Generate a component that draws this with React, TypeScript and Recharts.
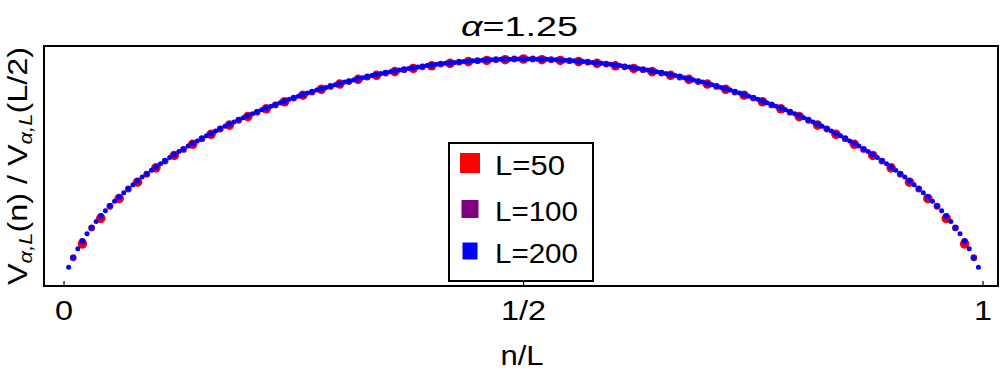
import React from 'react';
import { ScatterChart, Scatter, XAxis, YAxis, Legend, ReferenceArea } from 'recharts';

const FONT = '"Liberation Sans", Arial, Helvetica, sans-serif';

const TITLE_PREFIX = 'α';
const TITLE_REST = '=1.25';
const X_LABEL = 'n/L';

const xTickValues = [0, 0.5, 1];
const xTickLabels = ['0', '1/2', '1'];

const X_DOMAIN: [number, number] = [-0.0218, 1.0163];
const Y_DOMAIN: [number, number] = [0.0658, 1.0535];

// V_{α,L}(n) / V_{α,L}(L/2), n = 1 .. L-1
const valuesL50 = [
  0.239, 0.344, 0.425, 0.493, 0.552, 0.603, 0.649, 0.690, 0.728, 0.763,
  0.795, 0.824, 0.851, 0.875, 0.897, 0.916, 0.933, 0.948, 0.961, 0.972,
  0.982, 0.989, 0.994, 0.997, 1.000,
  0.997, 0.994, 0.989, 0.982, 0.972, 0.961, 0.948, 0.933, 0.916, 0.897,
  0.875, 0.851, 0.824, 0.795, 0.763, 0.728, 0.690, 0.649, 0.603, 0.552,
  0.493, 0.425, 0.344, 0.239,
];

const valuesL100 = [
  0.182, 0.249, 0.305, 0.352, 0.394, 0.431, 0.465, 0.497, 0.526, 0.554,
  0.580, 0.605, 0.628, 0.651, 0.672, 0.692, 0.712, 0.730, 0.748, 0.765,
  0.781, 0.796, 0.811, 0.825, 0.839, 0.852, 0.864, 0.876, 0.887, 0.898,
  0.907, 0.917, 0.926, 0.934, 0.942, 0.949, 0.956, 0.962, 0.968, 0.973,
  0.979, 0.983, 0.987, 0.990, 0.993, 0.995, 0.997, 0.999, 1.000, 1.000,
  1.000, 0.999, 0.997, 0.995, 0.993, 0.990, 0.987, 0.983, 0.979,
  0.973, 0.968, 0.962, 0.956, 0.949, 0.942, 0.934, 0.926, 0.917, 0.907,
  0.898, 0.887, 0.876, 0.864, 0.852, 0.839, 0.825, 0.811, 0.796, 0.781,
  0.765, 0.748, 0.730, 0.712, 0.692, 0.672, 0.651, 0.628, 0.605, 0.580,
  0.554, 0.526, 0.497, 0.465, 0.431, 0.394, 0.352, 0.305, 0.249, 0.182,
];

const valuesL200 = [
  0.143, 0.182, 0.219, 0.252, 0.281, 0.307, 0.331, 0.354, 0.375, 0.396,
  0.415, 0.433, 0.450, 0.467, 0.483, 0.499, 0.514, 0.528, 0.542, 0.556,
  0.569, 0.582, 0.595, 0.607, 0.619, 0.630, 0.642, 0.653, 0.663, 0.674,
  0.684, 0.694, 0.704, 0.714, 0.723, 0.732, 0.741, 0.750, 0.758, 0.767,
  0.775, 0.783, 0.791, 0.798, 0.806, 0.813, 0.820, 0.827, 0.834, 0.841,
  0.847, 0.854, 0.860, 0.866, 0.872, 0.878, 0.883, 0.889, 0.894, 0.900,
  0.905, 0.909, 0.914, 0.919, 0.923, 0.928, 0.932, 0.936, 0.940, 0.944,
  0.948, 0.951, 0.955, 0.958, 0.961, 0.964, 0.967, 0.970, 0.973, 0.975,
  0.978, 0.980, 0.982, 0.984, 0.986, 0.988, 0.990, 0.991, 0.993, 0.994,
  0.995, 0.996, 0.997, 0.998, 0.999, 0.999, 0.999, 1.000, 1.000, 1.000,
  1.000, 1.000, 0.999, 0.999, 0.999, 0.998, 0.997, 0.996, 0.995,
  0.994, 0.993, 0.991, 0.990, 0.988, 0.986, 0.984, 0.982, 0.980, 0.978,
  0.975, 0.973, 0.970, 0.967, 0.964, 0.961, 0.958, 0.955, 0.951, 0.948,
  0.944, 0.940, 0.936, 0.932, 0.928, 0.923, 0.919, 0.914, 0.909, 0.905,
  0.900, 0.894, 0.889, 0.883, 0.878, 0.872, 0.866, 0.860, 0.854, 0.847,
  0.841, 0.834, 0.827, 0.820, 0.813, 0.806, 0.798, 0.791, 0.783, 0.775,
  0.767, 0.758, 0.750, 0.741, 0.732, 0.723, 0.714, 0.704, 0.694, 0.684,
  0.674, 0.663, 0.653, 0.642, 0.630, 0.619, 0.607, 0.595, 0.582, 0.569,
  0.556, 0.542, 0.528, 0.514, 0.499, 0.483, 0.467, 0.450, 0.433, 0.415,
  0.396, 0.375, 0.354, 0.331, 0.307, 0.281, 0.252, 0.219, 0.182, 0.143,
];

const seriesNames = ['L=50', 'L=100', 'L=200'];
const seriesSizes = [50, 100, 200];
const seriesValues = [valuesL50, valuesL100, valuesL200];

const SERIES_STYLE = [
  { color: '#ff0000', r: 4.8, sqW: 20, sqH: 20, cy: 21, textW: 70 },
  { color: '#800080', r: 3.4, sqW: 17, sqH: 18, cy: 67, textW: 83 },
  { color: '#0000ff', r: 2.5, sqW: 15, sqH: 17, cy: 109, textW: 83 },
];

const toPoints = (values: number[], L: number) =>
  values.map((y, i) => ({ x: (i + 1) / L, y }));

const XTick = (props: any) => {
  const { x, y, payload } = props;
  const i = xTickValues.indexOf(payload.value);
  return (
    <g>
      <line x1={x} x2={x} y1={y} y2={y - 5} stroke="#000" strokeWidth={1.2} />
      <text
        transform={`translate(${x},${y + 34}) scale(1.2,1)`}
        textAnchor="middle"
        fontSize={27}
        fontFamily={FONT}
        fill="#000"
      >
        {xTickLabels[i]}
      </text>
    </g>
  );
};

const LegendBox = () => (
  <svg width={146} height={140} style={{ display: 'block' }}>
    <rect x={1} y={1} width={144} height={138} fill="#fff" stroke="#000" strokeWidth={2} />
    {seriesNames.map((name, i) => {
      const s = SERIES_STYLE[i];
      return (
        <g key={name}>
          <rect x={22 - s.sqW / 2} y={s.cy - s.sqH / 2} width={s.sqW} height={s.sqH} fill={s.color} />
          <text
            x={47}
            y={s.cy + 12}
            fontSize={27}
            fontFamily={FONT}
            fill="#000"
            textLength={s.textW}
            lengthAdjust="spacingAndGlyphs"
          >
            {name}
          </text>
        </g>
      );
    })}
  </svg>
);

export default function App() {
  return (
    <div style={{ position: 'absolute', left: 0, top: 0, width: 1000, height: 375, background: '#fff' }}>
      <ScatterChart width={1000} height={375} margin={{ top: 46, right: 2, bottom: 0, left: 44 }}>
        <XAxis
          type="number"
          dataKey="x"
          domain={X_DOMAIN}
          allowDataOverflow
          ticks={xTickValues}
          tick={<XTick />}
          tickLine={false}
          tickSize={0}
          tickMargin={0}
          height={89}
          axisLine={false}
        />
        <YAxis
          type="number"
          dataKey="y"
          domain={Y_DOMAIN}
          allowDataOverflow
          hide
          width={0}
        />
        <ReferenceArea
          x1={X_DOMAIN[0]}
          x2={X_DOMAIN[1]}
          y1={Y_DOMAIN[0]}
          y2={Y_DOMAIN[1]}
          fill="none"
          fillOpacity={0}
          stroke="#000"
          strokeWidth={2}
          strokeOpacity={1}
          ifOverflow="visible"
        />
        {seriesNames.map((name, i) => {
          const s = SERIES_STYLE[i];
          return (
            <Scatter
              key={name}
              name={name}
              data={toPoints(seriesValues[i], seriesSizes[i])}
              fill={s.color}
              isAnimationActive={false}
              shape={(p: any) => <circle cx={p.cx} cy={p.cy} r={s.r} fill={s.color} />}
            />
          );
        })}
        <Legend
          verticalAlign="middle"
          align="center"
          layout="horizontal"
          content={() => <LegendBox />}
          wrapperStyle={{ position: 'absolute', left: 448, top: 142, width: 146, height: 140 }}
        />
      </ScatterChart>
      <svg
        width={1000}
        height={375}
        style={{ position: 'absolute', left: 0, top: 0, pointerEvents: 'none' }}
      >
        <text
          x={461}
          y={36}
          fontSize={28}
          fontFamily={FONT}
          fill="#000"
          textLength={117}
          lengthAdjust="spacingAndGlyphs"
        >
          <tspan fontStyle="italic">{TITLE_PREFIX}</tspan>
          <tspan>{TITLE_REST}</tspan>
        </text>
        <text
          transform="translate(522,365) scale(1.15,1)"
          textAnchor="middle"
          fontSize={27}
          fontFamily={FONT}
          fill="#000"
        >
          {X_LABEL}
        </text>
        <text
          transform="translate(27,166) rotate(-90)"
          textAnchor="middle"
          fontSize={28}
          fontFamily={FONT}
          fill="#000"
          textLength={238}
          lengthAdjust="spacingAndGlyphs"
        >
          <tspan>V</tspan>
          <tspan fontSize={19} fontStyle="italic" dy={5}>α,L</tspan>
          <tspan dy={-5}>(n) / V</tspan>
          <tspan fontSize={19} fontStyle="italic" dy={5}>α,L</tspan>
          <tspan dy={-5}>(L/2)</tspan>
        </text>
      </svg>
    </div>
  );
}
